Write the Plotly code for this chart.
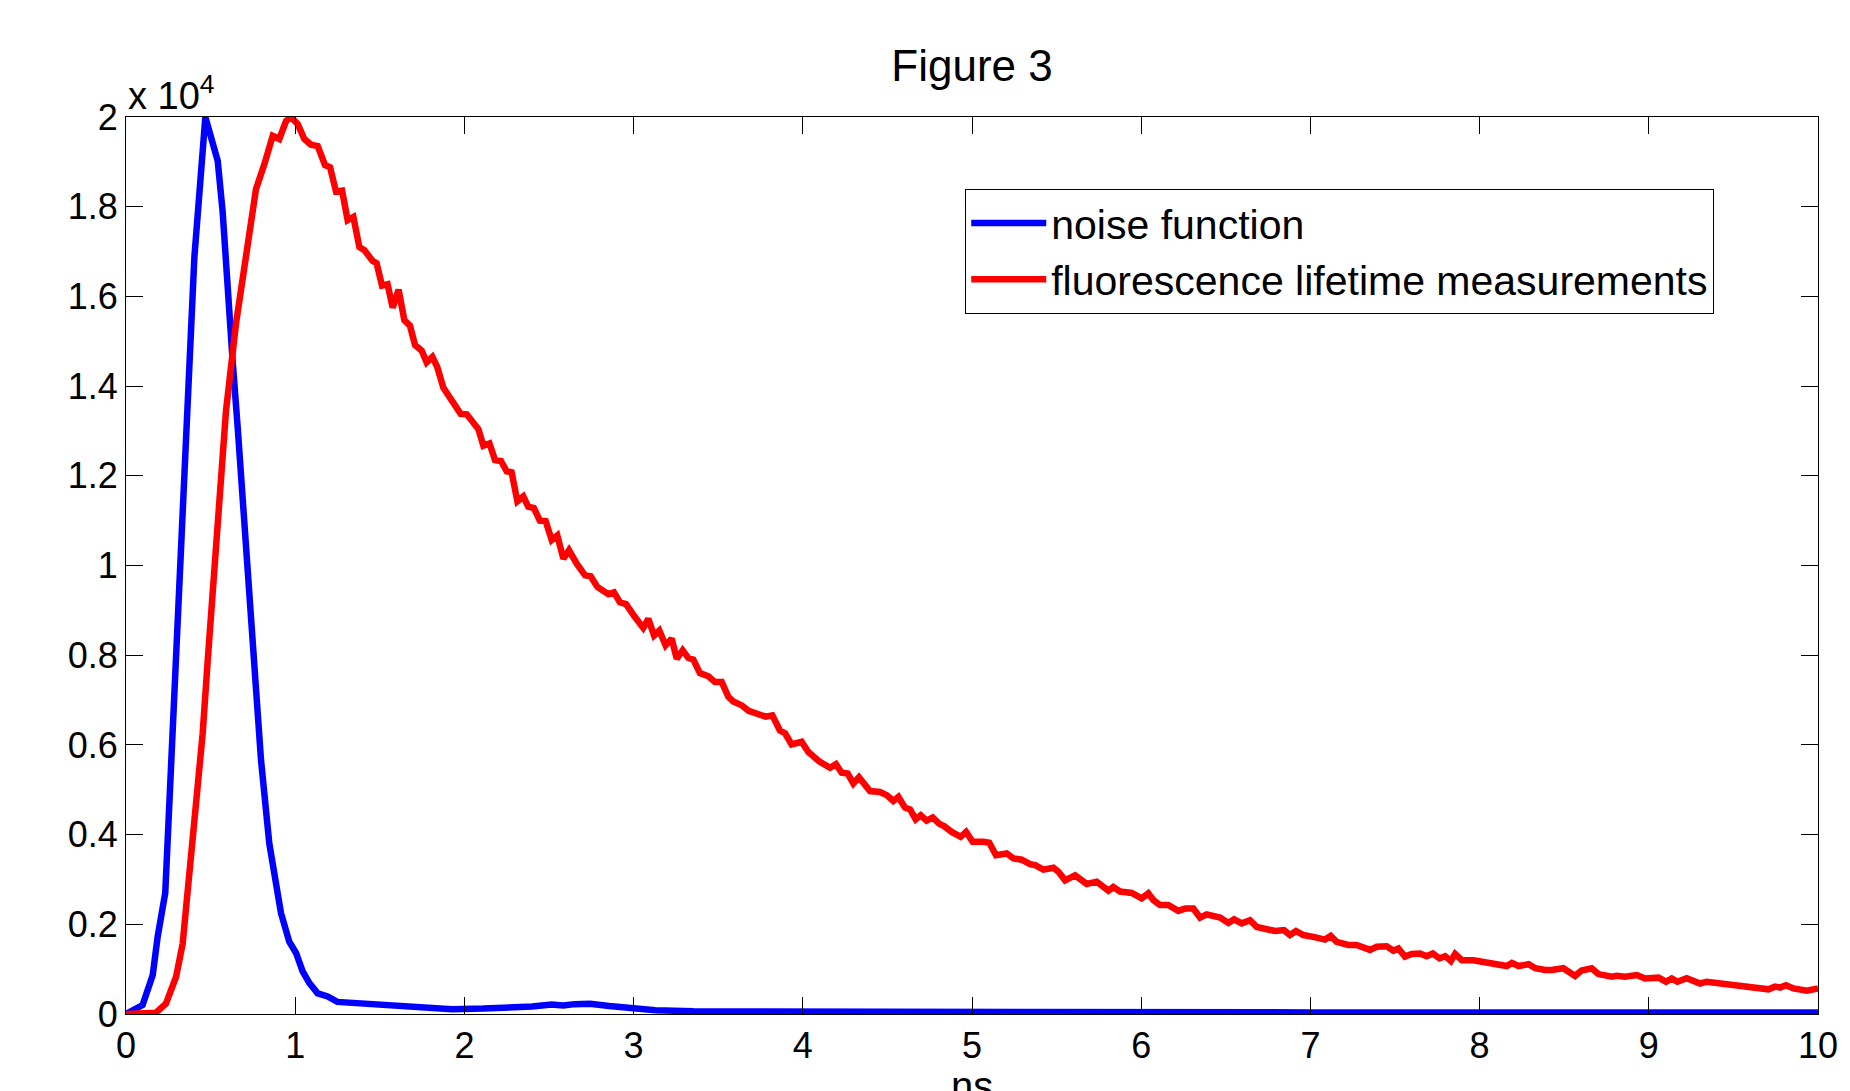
import plotly.graph_objects as go

# ---------------- data ----------------
noise_t = [0.0, 0.098, 0.158, 0.187, 0.232, 0.266, 0.296, 0.325, 0.355, 0.374,
           0.404, 0.469, 0.542, 0.571, 0.601, 0.63, 0.66, 0.69, 0.719, 0.758,
           0.798, 0.847, 0.887, 0.916, 0.965, 1.005, 1.044, 1.084, 1.133, 1.192,
           1.249, 1.385, 1.43, 1.566, 1.656, 1.814, 1.927, 2.11, 2.29, 2.4,
           2.516, 2.584, 2.652, 2.743, 2.856, 2.992, 3.128, 3.354, 4.0, 5.0,
           6.0, 7.0, 8.0, 9.0, 10.0]
noise_counts = [0, 200, 870, 1720, 2700, 5660, 7880, 10110, 12700, 14940,
                16870, 20000, 19020, 17900, 15980, 14570, 13080, 11380, 10110, 7880,
                5660, 3800, 2830, 2250, 1610, 1360, 950, 690, 460, 390,
                270, 240, 210, 200, 150, 130, 107, 120, 130, 167,
                210, 190, 220, 230, 180, 120, 85, 60, 50, 40,
                40, 35, 35, 35, 35]

fluo_t = [0.0, 0.177, 0.236, 0.296, 0.335, 0.364, 0.394, 0.424, 0.453, 0.483,
          0.512, 0.532, 0.591, 0.65, 0.699, 0.768, 0.818, 0.867, 0.906, 0.946,
          0.975, 1.015, 1.054, 1.093, 1.133, 1.176, 1.206, 1.241, 1.277, 1.31,
          1.344, 1.379, 1.409, 1.458, 1.481, 1.513, 1.546, 1.576, 1.611, 1.645,
          1.678, 1.708, 1.748, 1.777, 1.811, 1.84, 1.876, 1.925, 1.978, 2.014,
          2.083, 2.112, 2.148, 2.181, 2.216, 2.25, 2.279, 2.313, 2.348, 2.377,
          2.411, 2.446, 2.48, 2.516, 2.549, 2.585, 2.618, 2.664, 2.713, 2.746,
          2.786, 2.851, 2.884, 2.919, 2.955, 3.008, 3.057, 3.087, 3.121, 3.152,
          3.189, 3.225, 3.255, 3.29, 3.323, 3.353, 3.392, 3.442, 3.481, 3.521,
          3.56, 3.589, 3.64, 3.68, 3.73, 3.78, 3.82, 3.865, 3.895, 3.934,
          3.993, 4.033, 4.101, 4.161, 4.196, 4.23, 4.265, 4.299, 4.332, 4.397,
          4.456, 4.496, 4.535, 4.565, 4.604, 4.634, 4.667, 4.697, 4.732, 4.768,
          4.807, 4.835, 4.88, 4.933, 4.965, 5.004, 5.067, 5.102, 5.142, 5.205,
          5.245, 5.294, 5.343, 5.373, 5.422, 5.481, 5.511, 5.55, 5.609, 5.678,
          5.737, 5.806, 5.835, 5.875, 5.944, 6.003, 6.042, 6.072, 6.111, 6.16,
          6.219, 6.259, 6.308, 6.348, 6.387, 6.466, 6.515, 6.549, 6.594, 6.643,
          6.683, 6.742, 6.791, 6.844, 6.879, 6.915, 6.958, 7.017, 7.086, 7.12,
          7.155, 7.224, 7.273, 7.352, 7.392, 7.451, 7.491, 7.52, 7.559, 7.599,
          7.648, 7.687, 7.723, 7.763, 7.796, 7.83, 7.855, 7.895, 7.964, 8.023,
          8.072, 8.122, 8.161, 8.191, 8.23, 8.29, 8.329, 8.388, 8.426, 8.495,
          8.564, 8.603, 8.662, 8.702, 8.781, 8.81, 8.86, 8.929, 8.978, 9.057,
          9.102, 9.136, 9.169, 9.224, 9.303, 9.342, 9.431, 9.5, 9.579, 9.648,
          9.707, 9.746, 9.776, 9.811, 9.855, 9.934, 10.0]
fluo_counts = [0, 30, 230, 830, 1570, 2690, 3800, 4920, 6250, 7880,
               9370, 10110, 13450, 15390, 16720, 18390, 18950, 19580, 19510, 19910,
               20000, 19840, 19510, 19380, 19350, 18930, 18880, 18340, 18360, 17700,
               17770, 17100, 17030, 16790, 16740, 16240, 16270, 15750, 16150, 15470,
               15350, 14920, 14790, 14530, 14650, 14420, 13960, 13710, 13380, 13370,
               13040, 12670, 12720, 12350, 12330, 12100, 12080, 11430, 11540, 11310,
               11280, 11000, 10990, 10570, 10670, 10150, 10340, 10040, 9780, 9760,
               9520, 9360, 9400, 9180, 9140, 8850, 8610, 8810, 8440, 8550,
               8220, 8370, 7920, 8110, 7940, 7900, 7600, 7530, 7400, 7400,
               7070, 6970, 6880, 6760, 6700, 6630, 6660, 6320, 6260, 6010,
               6070, 5840, 5620, 5490, 5570, 5380, 5360, 5140, 5280, 4970,
               4950, 4880, 4750, 4840, 4600, 4560, 4340, 4430, 4310, 4380,
               4240, 4190, 4060, 3950, 4060, 3840, 3840, 3820, 3540, 3580,
               3470, 3440, 3340, 3320, 3220, 3260, 3170, 2980, 3090, 2900,
               2950, 2750, 2830, 2730, 2700, 2580, 2690, 2540, 2430, 2430,
               2300, 2350, 2350, 2150, 2220, 2150, 2030, 2110, 2020, 2090,
               1940, 1880, 1850, 1870, 1760, 1850, 1760, 1720, 1660, 1740,
               1610, 1540, 1540, 1430, 1500, 1510, 1410, 1460, 1280, 1340,
               1350, 1290, 1350, 1240, 1290, 1180, 1340, 1200, 1200, 1160,
               1130, 1130, 1070, 1140, 1070, 1110, 1020, 980, 980, 1020,
               850, 970, 1020, 890, 830, 850, 830, 870, 790, 810,
               720, 790, 720, 800, 680, 720, 680, 620, 620, 590,
               550, 610, 590, 640, 570, 520, 570]

x_tick_values = [0, 1, 2, 3, 4, 5, 6, 7, 8, 9, 10]
y_tick_values = [0, 2000, 4000, 6000, 8000, 10000, 12000, 14000, 16000, 18000, 20000]
y_tick_labels = ["0", "0.2", "0.4", "0.6", "0.8", "1", "1.2", "1.4", "1.6", "1.8", "2"]
x_axis_label = "ns"

FONT = "Liberation Sans, Arial, Helvetica, sans-serif"

# the page body adds an 8px margin around the figure, so the figure is sized
# and margined to put the plot area where the reference has it
FIG_W, FIG_H = 1842, 1083
PLOT_H = 897

fig = go.Figure()
fig.add_trace(go.Scatter(x=noise_t, y=noise_counts, mode="lines",
                         name="noise function",
                         line=dict(color="#0000FF", width=6.5)))
fig.add_trace(go.Scatter(x=fluo_t, y=fluo_counts, mode="lines",
                         name="fluorescence lifetime measurements",
                         line=dict(color="#FF0000", width=6.5)))

axis_common = dict(showgrid=False, zeroline=False, showline=True,
                   linecolor="black", linewidth=1, mirror="ticks",
                   ticks="inside", ticklen=17, tickwidth=1, tickcolor="black",
                   automargin=False,
                   tickfont=dict(family=FONT, size=36, color="black"))

fig.update_layout(
    width=FIG_W, height=FIG_H, autosize=False,
    paper_bgcolor="white", plot_bgcolor="white",
    margin=dict(l=118, r=32, t=109, b=77),
    title=dict(text="Figure 3", x=0.5, xref="paper", xanchor="center",
               y=1 - 58 / FIG_H, yanchor="middle",
               font=dict(family=FONT, size=44, color="black")),
    xaxis=dict(range=[0, 10], tickvals=x_tick_values, **axis_common),
    yaxis=dict(range=[0, 20000], tickvals=y_tick_values, ticktext=y_tick_labels,
               **axis_common),
    legend=dict(x=0.496, y=0.92, xanchor="left", yanchor="top",
                bgcolor="white", bordercolor="black", borderwidth=1,
                font=dict(family=FONT, size=41, color="black"),
                itemwidth=75),
    showlegend=True,
)

# exponent label above the y axis
fig.add_annotation(text="x 10<sup>4</sup>", xref="paper", yref="paper",
                   x=0, y=1, xanchor="left", yanchor="bottom", yshift=-2,
                   showarrow=False,
                   font=dict(family=FONT, size=38, color="black"))

# x-axis title, partly below the bottom edge as in the reference
fig.add_annotation(text=x_axis_label, xref="paper", yref="paper",
                   x=0.5, y=-48 / PLOT_H, xanchor="center", yanchor="top",
                   showarrow=False,
                   font=dict(family=FONT, size=40, color="black"))

fig.write_html("out.html")
